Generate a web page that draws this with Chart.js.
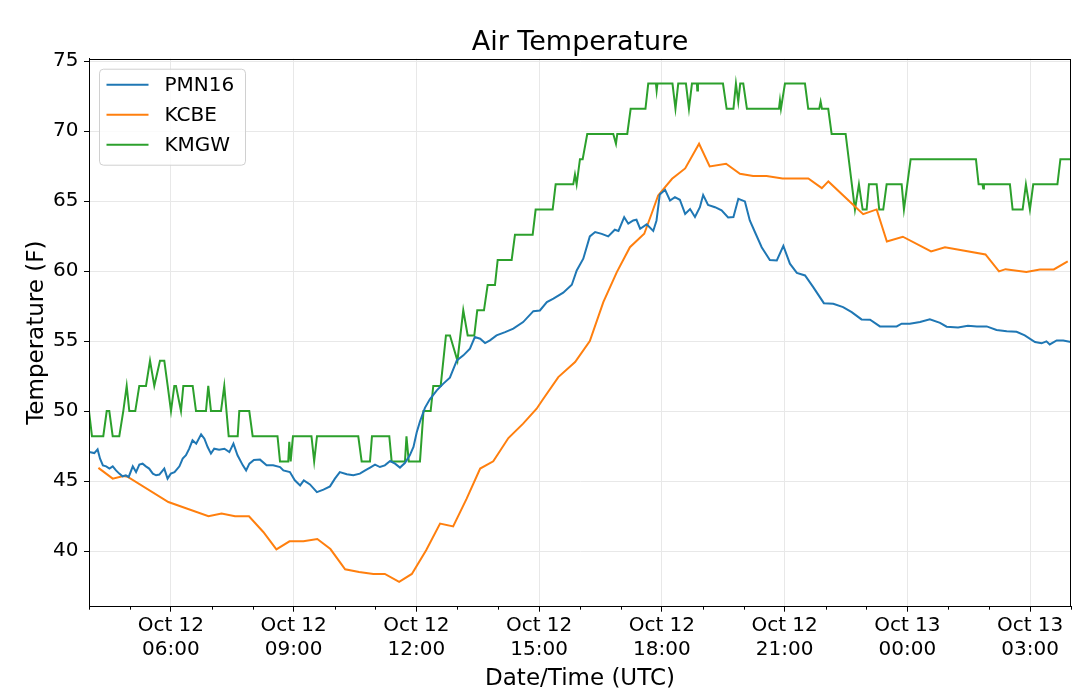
<!DOCTYPE html>
<html>
<head>
<meta charset="utf-8">
<script src="https://cdn.jsdelivr.net/npm/chart.js@4.4.0/dist/chart.umd.min.js"></script>
<style>
html,body{margin:0;padding:0;background:#fff;}
canvas{display:block;}
</style>
</head>
<body>
<canvas id="c" width="1080" height="697"></canvas>
<script>
// ---------------- DATA ----------------
const chartTitle = "Air Temperature";
const xAxisTitle = "Date/Time (UTC)";
const yAxisTitle = "Temperature (F)";
const seriesNames = ["PMN16", "KCBE", "KMGW"];
const seriesColors = ["#1f77b4", "#ff7f0e", "#2ca02c"];

// [hours since Oct 12 00:00 UTC, temperature F]
const pmn16 = [
[4.00,47.07],[4.02,47.07],[4.13,47.00],[4.21,47.26],[4.27,46.60],[4.34,46.12],[4.42,46.05],[4.50,45.89],[4.58,46.05],[4.66,45.76],
[4.74,45.53],[4.82,45.34],[4.90,45.41],[4.97,45.29],[5.07,46.05],[5.15,45.64],[5.23,46.17],[5.31,46.24],[5.39,46.05],[5.47,45.89],
[5.56,45.53],[5.64,45.41],[5.72,45.46],[5.84,45.89],[5.92,45.17],[6.00,45.53],[6.09,45.64],[6.21,46.05],[6.29,46.60],[6.37,46.84],
[6.45,47.31],[6.53,47.91],[6.62,47.67],[6.74,48.34],[6.82,48.03],[6.90,47.43],[6.98,46.96],[7.06,47.31],[7.18,47.24],[7.31,47.31],
[7.43,47.07],[7.53,47.67],[7.63,46.84],[7.76,46.12],[7.84,45.76],[7.92,46.24],[8.03,46.51],[8.18,46.53],[8.34,46.12],[8.50,46.12],
[8.67,46.00],[8.75,45.76],[8.91,45.64],[9.03,45.05],[9.16,44.69],[9.25,45.05],[9.40,44.76],[9.57,44.21],[9.73,44.39],[9.89,44.62],
[10.01,45.17],[10.13,45.64],[10.30,45.48],[10.46,45.41],[10.62,45.53],[10.75,45.76],[10.87,45.96],[10.99,46.17],[11.11,46.00],[11.23,46.12],
[11.36,46.43],[11.48,46.24],[11.60,45.96],[11.72,46.29],[11.84,46.84],[11.93,47.43],[12.01,48.48],[12.09,49.26],[12.21,50.23],[12.33,50.84],
[12.50,51.48],[12.66,51.96],[12.82,52.39],[12.99,53.62],[13.15,53.98],[13.31,54.46],[13.43,55.29],[13.56,55.17],[13.68,54.86],[13.80,55.05],
[13.96,55.41],[14.17,55.64],[14.37,55.89],[14.61,56.36],[14.86,57.14],[15.02,57.19],[15.19,57.79],[15.35,58.03],[15.59,58.46],[15.80,59.03],
[15.92,60.05],[16.08,60.89],[16.24,62.48],[16.37,62.79],[16.53,62.66],[16.69,62.48],[16.85,62.96],[16.94,62.87],[17.08,63.86],[17.18,63.39],
[17.30,63.62],[17.38,63.67],[17.47,63.03],[17.63,63.34],[17.79,62.87],[17.87,63.62],[17.95,65.48],[18.08,65.81],[18.20,65.05],[18.32,65.29],
[18.44,65.10],[18.57,64.09],[18.69,64.44],[18.81,63.87],[18.93,64.57],[19.01,65.44],[19.13,64.73],[19.30,64.57],[19.46,64.34],[19.62,63.84],
[19.75,63.86],[19.87,65.17],[20.03,64.98],[20.15,63.62],[20.28,62.76],[20.44,61.71],[20.64,60.80],[20.81,60.76],[20.97,61.81],[21.13,60.53],
[21.30,59.87],[21.50,59.69],[21.70,58.86],[21.96,57.71],[22.19,57.67],[22.43,57.43],[22.64,57.07],[22.88,56.55],[23.09,56.53],[23.33,56.05],
[23.57,56.05],[23.74,56.05],[23.86,56.24],[24.06,56.24],[24.31,56.36],[24.55,56.55],[24.80,56.30],[24.96,56.03],[25.24,55.98],[25.48,56.09],
[25.70,56.05],[25.94,56.05],[26.18,55.80],[26.43,55.71],[26.67,55.66],[26.87,55.41],[27.12,54.93],[27.28,54.84],[27.40,54.98],[27.48,54.76],
[27.65,55.05],[27.81,55.05],[28.00,54.94]
];

const kcbe = [
[4.23,45.94],[4.58,45.17],[4.84,45.36],[4.95,45.30],[5.94,43.50],[6.92,42.48],[7.24,42.67],[7.57,42.48],[7.91,42.48],[8.26,41.36],
[8.58,40.12],[8.90,40.69],[9.24,40.69],[9.58,40.86],[9.90,40.14],[10.26,38.69],[10.60,38.50],[10.95,38.36],[11.23,38.36],[11.58,37.79],
[11.89,38.36],[12.24,40.05],[12.58,41.96],[12.90,41.76],[13.23,43.74],[13.56,45.89],[13.88,46.41],[14.25,48.07],[14.61,49.10],[14.94,50.17],
[15.10,50.86],[15.47,52.43],[15.88,53.50],[16.24,55.01],[16.57,57.79],[16.90,59.93],[17.22,61.71],[17.57,62.67],[17.75,64.10],[17.91,65.41],
[18.25,66.60],[18.57,67.34],[18.91,69.10],[19.17,67.48],[19.57,67.67],[19.91,66.96],[20.23,66.79],[20.56,66.79],[20.95,66.62],[21.58,66.62],
[21.91,65.93],[22.07,66.41],[22.72,64.62],[22.92,64.07],[23.25,64.41],[23.50,62.12],[23.89,62.46],[24.58,61.41],[24.92,61.71],[25.91,61.19],
[26.24,59.98],[26.40,60.14],[26.91,59.93],[27.24,60.11],[27.58,60.12],[27.92,60.69]
];

const kmgw = [
[4.000,50.0],[4.073,48.2],[4.349,48.2],[4.433,50.0],[4.496,50.0],[4.579,48.2],[4.740,48.2],[4.838,50.0],[4.921,51.8],[4.985,50.0],
[5.131,50.0],[5.229,51.8],[5.393,51.8],[5.491,53.6],[5.596,51.8],[5.735,53.6],[5.840,53.6],[5.923,51.8],[6.004,50.0],[6.085,51.8],
[6.126,51.8],[6.248,50.0],[6.305,51.8],[6.534,51.8],[6.615,50.0],[6.859,50.0],[6.915,51.8],[6.981,50.0],[7.226,50.0],[7.306,51.8],
[7.414,48.2],[7.634,48.2],[7.673,50.0],[7.917,50.0],[8.000,48.2],[8.607,48.2],[8.668,46.4],[8.870,46.4],[8.895,47.8],[8.929,46.4],
[8.985,48.2],[9.437,48.2],[9.503,46.4],[9.572,48.2],[10.581,48.2],[10.664,46.4],[10.867,46.4],[10.916,48.2],[11.339,48.2],[11.397,46.4],
[11.722,46.4],[11.759,48.2],[11.815,46.4],[12.089,46.4],[12.175,50.0],[12.350,50.0],[12.414,51.8],[12.595,51.8],[12.724,55.4],[12.822,55.4],
[13.005,53.6],[13.147,57.2],[13.255,55.4],[13.416,55.4],[13.489,57.2],[13.653,57.2],[13.743,59.0],[13.922,59.0],[13.988,60.8],[14.330,60.8],
[14.411,62.6],[14.843,62.6],[14.916,64.4],[15.332,64.4],[15.405,66.2],[15.835,66.2],[15.877,66.9],[15.918,66.2],[15.999,68.0],[16.065,68.0],
[16.177,69.8],[16.813,69.8],[16.879,69.1],[16.911,69.8],[17.155,69.8],[17.238,71.6],[17.600,71.6],[17.668,73.4],[17.856,73.4],[17.873,72.9],
[17.893,73.4],[18.260,73.4],[18.333,71.6],[18.401,73.4],[18.589,73.4],[18.663,71.6],[18.736,73.4],[18.858,73.4],[18.866,72.9],[18.883,73.4],
[19.494,73.4],[19.584,71.6],[19.750,71.6],[19.811,73.4],[19.868,72.1],[19.916,73.4],[19.990,73.4],[20.080,71.6],[20.862,71.6],[20.887,72.2],
[20.911,71.6],[21.009,73.4],[21.498,73.4],[21.578,71.6],[21.847,71.6],[21.881,72.1],[21.913,71.6],[22.067,71.6],[22.150,69.8],[22.492,69.8],
[22.720,64.4],[22.817,66.2],[22.908,64.4],[23.005,64.4],[23.062,66.2],[23.250,66.2],[23.313,64.4],[23.411,64.4],[23.494,66.2],[23.861,66.2],
[23.917,64.4],[24.081,68.0],[25.677,68.0],[25.742,66.2],[25.835,66.2],[25.855,65.9],[25.872,66.2],[26.507,66.2],[26.573,64.4],[26.818,64.4],
[26.898,66.2],[26.996,64.4],[27.077,66.2],[27.668,66.2],[27.741,68.0],[28.000,68.0]
];

const xTicks = [6, 9, 12, 15, 18, 21, 24, 27];
const xTickLabels = [
  ["Oct 12", "06:00"], ["Oct 12", "09:00"], ["Oct 12", "12:00"], ["Oct 12", "15:00"],
  ["Oct 12", "18:00"], ["Oct 12", "21:00"], ["Oct 13", "00:00"], ["Oct 13", "03:00"]
];
const yTicks = [40, 45, 50, 55, 60, 65, 70, 75];
const xMin = 4, xMax = 28;
const yMin = 36.02, yMax = 75.18;

// ---------------- CHART ----------------
const FONT = "'DejaVu Sans', 'Liberation Sans', sans-serif";
Chart.defaults.font.family = FONT;
Chart.defaults.color = "#000";

const toXY = arr => arr.map(p => ({ x: p[0], y: p[1] }));
const seriesData = [pmn16, kcbe, kmgw];

const bgPlugin = {
  id: "bg",
  beforeDraw(chart) {
    const ctx = chart.ctx;
    ctx.save();
    ctx.fillStyle = "#fff";
    ctx.fillRect(0, 0, chart.width, chart.height);
    ctx.restore();
  }
};

const framePlugin = {
  id: "frame",
  afterDatasetsDraw(chart) {
    const { ctx, chartArea: a, scales } = chart;
    ctx.save();
    ctx.strokeStyle = "#000";
    ctx.lineWidth = 1;
    ctx.strokeRect(Math.round(a.left) + 0.5, Math.round(a.top) + 0.5,
                   Math.round(a.right) - Math.round(a.left) - 1, Math.round(a.bottom) - Math.round(a.top) - 1);
    // minor hourly tick marks
    const xs = scales.x;
    ctx.beginPath();
    for (let h = Math.ceil(xs.min); h <= xs.max; h++) {
      if (xTicks.includes(h)) continue;
      const px = Math.round(xs.getPixelForValue(h)) + 0.5;
      ctx.moveTo(px, a.bottom);
      ctx.lineTo(px, a.bottom + 3);
    }
    ctx.stroke();
    ctx.restore();
  }
};

const titlePlugin = {
  id: "plotTitle",
  afterDraw(chart) {
    const { ctx, chartArea: a } = chart;
    ctx.save();
    ctx.font = "27px " + FONT;
    ctx.fillStyle = "#000";
    ctx.textAlign = "center";
    ctx.textBaseline = "alphabetic";
    ctx.fillText(chartTitle, (a.left + a.right) / 2, 50);
    ctx.restore();
  }
};

const legendPlugin = {
  id: "boxLegend",
  afterDraw(chart) {
    const { ctx, chartArea: a } = chart;
    const x0 = a.left + 10.5, y0 = a.top + 10.5, w = 146, h = 96, r = 4;
    ctx.save();
    ctx.beginPath();
    ctx.moveTo(x0 + r, y0);
    ctx.lineTo(x0 + w - r, y0);
    ctx.arcTo(x0 + w, y0, x0 + w, y0 + r, r);
    ctx.lineTo(x0 + w, y0 + h - r);
    ctx.arcTo(x0 + w, y0 + h, x0 + w - r, y0 + h, r);
    ctx.lineTo(x0 + r, y0 + h);
    ctx.arcTo(x0, y0 + h, x0, y0 + h - r, r);
    ctx.lineTo(x0, y0 + r);
    ctx.arcTo(x0, y0, x0 + r, y0, r);
    ctx.closePath();
    ctx.fillStyle = "rgba(255,255,255,0.8)";
    ctx.fill();
    ctx.strokeStyle = "#d0d0d0";
    ctx.lineWidth = 1;
    ctx.stroke();
    ctx.font = "20px " + FONT;
    ctx.textAlign = "left";
    ctx.textBaseline = "middle";
    chart.data.datasets.forEach((ds, i) => {
      const y = y0 + 15.5 + 30 * i;
      ctx.strokeStyle = ds.borderColor;
      ctx.lineWidth = 2;
      ctx.beginPath();
      ctx.moveTo(x0 + 7, y);
      ctx.lineTo(x0 + 49, y);
      ctx.stroke();
      ctx.fillStyle = "#000";
      ctx.fillText(ds.label, x0 + 65, y + 1);
    });
    ctx.restore();
  }
};

const gridOpts = { color: "#e8e8e8", lineWidth: 1, tickColor: "#000", tickLength: 5, tickWidth: 1 };

new Chart(document.getElementById("c"), {
  type: "line",
  data: {
    datasets: seriesNames.map((name, i) => ({
      label: name,
      data: toXY(seriesData[i]),
      borderColor: seriesColors[i],
      backgroundColor: seriesColors[i],
      borderWidth: 2,
      pointRadius: 0,
      tension: 0,
      fill: false
    }))
  },
  options: {
    responsive: false,
    animation: false,
    devicePixelRatio: 1,
    layout: { padding: { left: 0, right: 9, top: 58.7, bottom: 0 } },
    plugins: {
      legend: { display: false },
      tooltip: { enabled: false },
      title: { display: false }
    },
    scales: {
      x: {
        type: "linear",
        min: xMin,
        max: xMax,
        afterBuildTicks(s) { s.ticks = xTicks.map(v => ({ value: v })); },
        afterFit(s) { s.height = 90.3; s.paddingLeft = 0; s.paddingRight = 0; },
        ticks: {
          autoSkip: false, maxRotation: 0, minRotation: 0, padding: 2,
          font: { size: 20 }, color: "#000",
          callback(v) { const i = xTicks.indexOf(v); return i >= 0 ? xTickLabels[i] : ""; }
        },
        grid: gridOpts,
        border: { color: "#000", width: 1 },
        title: { display: true, text: xAxisTitle, font: { size: 23 }, color: "#000", padding: { top: 0, bottom: 4 } }
      },
      y: {
        type: "linear",
        min: yMin,
        max: yMax,
        afterBuildTicks(s) { s.ticks = yTicks.map(v => ({ value: v })); },
        afterFit(s) { s.width = 89; s.paddingTop = 0; s.paddingBottom = 0; },
        ticks: { padding: 5.5, font: { size: 20 }, color: "#000" },
        grid: gridOpts,
        border: { color: "#000", width: 1 },
        title: { display: true, text: yAxisTitle, font: { size: 23 }, color: "#000", padding: { top: 23.5, bottom: 0 } }
      }
    }
  },
  plugins: [bgPlugin, framePlugin, titlePlugin, legendPlugin]
});
</script>
</body>
</html>
